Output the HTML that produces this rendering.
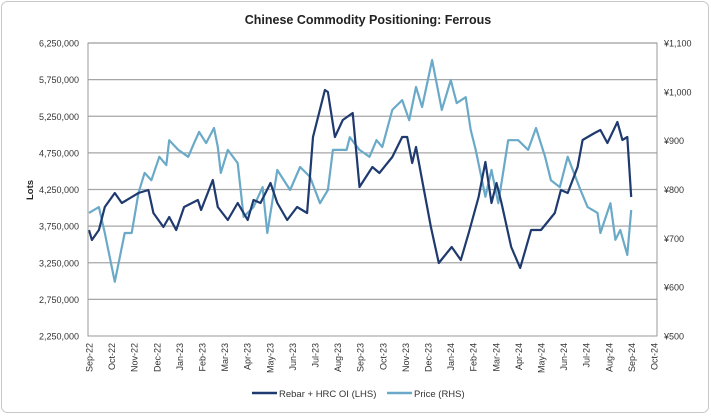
<!DOCTYPE html>
<html><head><meta charset="utf-8">
<style>
body{margin:0;background:#fff;font-family:"Liberation Sans",sans-serif;}
#wrap{position:relative;width:711px;height:415px;}
</style></head>
<body>
<div id="wrap">
<svg id="chart" width="711" height="415" xmlns="http://www.w3.org/2000/svg">
<rect x="1.5" y="1.5" width="707" height="411" rx="6" fill="#fff" stroke="#c8c8c8"/>
<text x="368" y="24" text-anchor="middle" font-size="12.5" font-weight="bold" fill="#222">Chinese Commodity Positioning: Ferrous</text>
<text transform="translate(33,190) rotate(-90)" text-anchor="middle" font-size="9.5" font-weight="bold" fill="#222">Lots</text>
<g id="grid"></g><g id="series"></g><g id="axes"></g>
<g>
<line x1="252" y1="393" x2="277" y2="393" stroke="#1f3a6e" stroke-width="2.5"/>
<text x="279" y="397" font-size="9.5" fill="#333">Rebar + HRC OI (LHS)</text>
<line x1="387" y1="393" x2="412" y2="393" stroke="#6aaac8" stroke-width="2.5"/>
<text x="414" y="397" font-size="9.5" fill="#333">Price (RHS)</text>
</g>
</svg>
</div>
<script>
const months = ["Sep-22","Oct-22","Nov-22","Dec-22","Jan-23","Feb-23","Mar-23","Apr-23","May-23","Jun-23","Jul-23","Aug-23","Sep-23","Oct-23","Nov-23","Dec-23","Jan-24","Feb-24","Mar-24","Apr-24","May-24","Jun-24","Jul-24","Aug-24","Sep-24","Oct-24"];
const leftTicks = [2250000,2750000,3250000,3750000,4250000,4750000,5250000,5750000,6250000];
const rightTicks = [500,600,700,800,900,1000,1100];
const oiT = [0,0.13,0.44,0.7,1.14,1.45,2.19,2.63,2.85,3.29,3.55,3.86,4.21,4.82,4.96,5.48,5.7,6.14,6.58,7.02,7.28,7.59,8.03,8.33,8.77,9.21,9.65,9.91,10.44,10.57,10.88,11.23,11.67,11.97,12.54,12.85,13.42,13.86,14.08,14.3,14.47,14.74,15.13,15.48,16.05,16.45,16.8,17.24,17.54,17.81,18.03,18.25,18.68,19.08,19.56,20,20.61,20.88,21.18,21.62,21.84,22.37,22.63,22.94,23.38,23.6,23.82,23.99];
const oiV = [3697,3560,3697,4011,4202,4066,4202,4243,3929,3738,3875,3697,4011,4107,3970,4380,4011,3834,4066,3834,4107,4066,4339,4066,3834,4011,3929,4967,5608,5581,4967,5199,5294,4284,4557,4475,4694,4967,4967,4612,4830,4380,3738,3247,3465,3288,3656,4148,4625,4066,4339,4066,3465,3178,3697,3697,3929,4243,4202,4557,4926,5021,5062,4885,5171,4926,4967,4148];
const priceT = [0,0.44,0.7,1.14,1.58,1.89,2.19,2.46,2.76,3.11,3.42,3.55,3.95,4.39,4.65,4.87,5.18,5.53,5.7,5.83,6.14,6.58,6.84,7.28,7.68,7.89,8.33,8.9,9.34,9.78,10,10.22,10.57,10.79,11.4,11.54,11.97,12.41,12.72,12.98,13.42,13.86,14.17,14.47,14.74,15.18,15.61,16.01,16.27,16.67,16.89,17.11,17.54,17.81,18.11,18.55,18.99,19.43,19.78,20.18,20.44,20.83,21.18,21.75,22.06,22.5,22.63,23.07,23.29,23.51,23.82,23.99];
const priceV = [752,764,711,611,711,711,793,834,819,867,850,901,881,867,895,918,895,926,887,834,881,854,744,764,805,711,840,799,846,826,799,772,799,881,881,907,881,867,901,887,963,983,942,1010,969,1065,963,1024,977,989,922,881,785,840,772,901,901,881,926,867,819,805,867,799,764,752,711,772,697,717,666,758];

const NS="http://www.w3.org/2000/svg";
const X0=89, XW=22.6, YT=43, YB=336, XL=88, XR=657;
const x = m => X0 + XW*m;
const yL = v => YB - (v-2250000)/4000000*(YB-YT);
const yR = v => YB - (v-500)/600*(YB-YT);
function mk(tag, attrs, parent, text){const e=document.createElementNS(NS,tag);for(const k in attrs)e.setAttribute(k,attrs[k]);if(text!==undefined)e.textContent=text;parent.appendChild(e);return e;}
const grid=document.getElementById('grid'), axes=document.getElementById('axes'), series=document.getElementById('series');
leftTicks.forEach((v,i)=>{
  if(i>0){const g=mk('line',{x1:XL,x2:XR,y1:yL(v),y2:yL(v),stroke:'#a6a6a6','stroke-width':1.3},grid);
  
  }
  const t=mk('text',{x:79,y:yL(v)+3.5,'text-anchor':'end','font-size':9,fill:'#333'},axes,v.toLocaleString('en-US'));
  
  
});
rightTicks.forEach(v=>{
  const t=mk('text',{x:664,y:yR(v)+3.5,'font-size':9,fill:'#333'},axes,'¥'+v.toLocaleString('en-US'));
  
  
});
const frame=mk('rect',{x:XL,y:YT,width:XR-XL,height:YB-YT,fill:'none',stroke:'#9a9a9a','stroke-width':1},axes);


months.forEach((m,i)=>{
  const t=mk('text',{transform:`translate(${x(i)+3.5},343) rotate(-90)`,'text-anchor':'end','font-size':9,fill:'#333'},axes,m);
  
  
});
function line(T,V,f,color,name){
  const d=T.map((t,i)=>(i?'L':'M')+x(t).toFixed(1)+','+f(V[i]).toFixed(1)).join('');
  const p=mk('path',{d:d,fill:'none',stroke:color,'stroke-width':2.2,'stroke-linejoin':'round'},series);
  
  
}
line(priceT,priceV,yR,'#6aaac8','price-line');
line(oiT,oiV.map(v=>v*1000),yL,'#1f3a6e','oi-line');
</script>
</body></html>
